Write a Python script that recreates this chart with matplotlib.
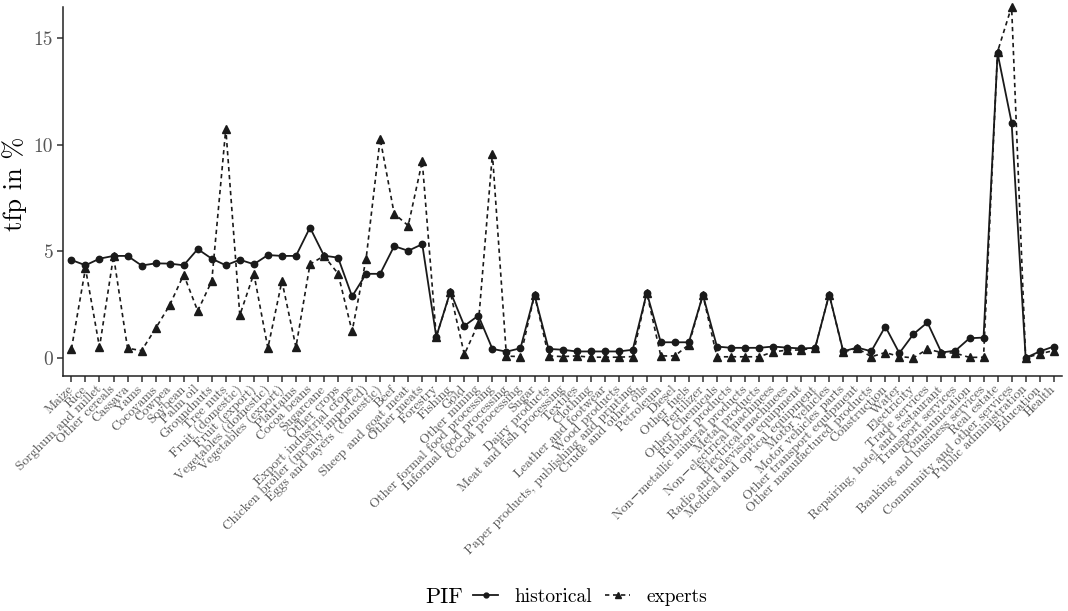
import matplotlib
matplotlib.use("Agg")
import matplotlib.pyplot as plt
from matplotlib.lines import Line2D

plt.rcParams['font.family'] = ['cmr10', 'DejaVu Serif']
plt.rcParams['axes.formatter.use_mathtext'] = True

# 行业
sectors = [
    "Maize", "Rice", "Sorghum and millet", "Other cereals", "Cassava", "Yams",
    "Cocoyams", "Cowpea", "Soybean", "Palm oil", "Groundnuts", "Tree nuts",
    "Fruit (domestic)", "Fruit (export)", "Vegetables (domestic)", "Vegetables (export)",
    "Plantains", "Cocoa beans", "Sugarcane", "Other crops", "Export industrial crops",
    "Chicken broiler (mostly imported)", "Eggs and layers (domestic)", "Beef",
    "Sheep and goat meat", "Other meats", "Forestry", "Fishing", "Gold", "Other mining",
    "Other formal food processing", "Informal food processing", "Cocoa processing",
    "Sugar", "Dairy products", "Meat and fish processing", "Textiles", "Clothing",
    "Leather and footwear", "Wood products", "Paper products, publishing and printing",
    "Crude and other oils", "Petroleum", "Diesel", "Other fuels", "Fertilizer",
    "Other Chemicals", "Rubber products", "Non\u2212metallic mineral products",
    "Metal products", "Non\u2212electrical machinees", "Electrical machinees",
    "Radio and television equipment", "Medical and optical equipment", "Motor vehicles",
    "Motor vehicles parts", "Other transport equipment", "Other manufactured products",
    "Construction", "Water", "Electricity", "Trade services",
    "Repairing, hotel and restaurant", "Transport services", "Communication",
    "Banking and business services", "Real estate", "Community and other services",
    "Public administration", "Education", "Health",
]

# tfp 增长率 (%)
historical = [
    4.59, 4.34, 4.65, 4.78, 4.78, 4.33, 4.43, 4.42, 4.34, 5.10,
    4.65, 4.34, 4.60, 4.39, 4.82, 4.78, 4.78, 6.11, 4.79, 4.70,
    2.88, 3.94, 3.94, 5.24, 5.02, 5.33, 0.99, 3.10, 1.50, 1.98,
    0.42, 0.29, 0.45, 2.95, 0.42, 0.38, 0.30, 0.30, 0.30, 0.30,
    0.38, 3.05, 0.73, 0.73, 0.73, 2.95, 0.53, 0.47, 0.47, 0.47,
    0.53, 0.48, 0.44, 0.47, 2.97, 0.31, 0.48, 0.31, 1.47, 0.22,
    1.11, 1.66, 0.25, 0.34, 0.92, 0.95, 14.28, 11.03, 0.00, 0.30, 0.53,
]
experts = [
    0.42, 4.20, 0.50, 4.78, 0.45, 0.34, 1.38, 2.47, 3.90, 2.20,
    3.60, 10.74, 2.00, 3.95, 0.46, 3.60, 0.50, 4.39, 4.78, 3.95,
    1.24, 4.65, 10.28, 6.76, 6.20, 9.22, 0.99, 3.07, 0.16, 1.61,
    9.57, 0.08, 0.06, 2.95, 0.09, 0.06, 0.09, 0.03, 0.03, 0.03,
    0.06, 3.05, 0.09, 0.09, 0.62, 2.95, 0.05, 0.05, 0.05, 0.05,
    0.28, 0.36, 0.37, 0.47, 2.97, 0.28, 0.45, 0.05, 0.25, 0.06,
    0.00, 0.41, 0.25, 0.22, 0.02, 0.03, 14.36, 16.47, 0.00, 0.19, 0.34,
]

x = range(len(sectors))
grey = '#555555'
dash = (0, (2.6, 2.2))

fig = plt.figure(figsize=(10.68, 6.11), dpi=100)
ax = fig.add_axes([0.059, 0.385, 0.9355, 0.6035])

ax.plot(x, historical, color='#1a1a1a', lw=1.3, marker='o', ms=4.6, clip_on=False, zorder=3)
ax.plot(x, experts, color='#1a1a1a', lw=1.2, ls=dash, marker='^', ms=5.2, clip_on=False, zorder=3)

ax.set_xlim(-0.6, len(sectors) - 0.4)
ax.set_ylim(-0.84, 16.45)
ax.set_yticks([0, 5, 10, 15])
ax.set_yticklabels(['0', '5', '10', '15'])
ax.set_xticks(list(x))
ax.set_xticklabels(sectors, rotation=45, ha='right', va='center', rotation_mode='anchor')

for lab in ax.get_xticklabels():
    lab.set_fontsize(9.6)
    lab.set_color(grey)
for lab in ax.get_yticklabels():
    lab.set_fontsize(14)
    lab.set_color(grey)

ax.tick_params(axis='both', length=4.5, width=1.1, color='#333333', pad=2.5)
ax.tick_params(axis='x', pad=4)
ax.spines['top'].set_visible(False)
ax.spines['right'].set_visible(False)
for s in ['left', 'bottom']:
    ax.spines[s].set_linewidth(1.1)
    ax.spines[s].set_color('#222222')

ax.set_ylabel('tfp in %', fontsize=19)
ax.yaxis.set_label_coords(-0.036, 0.52)

# 图例
handles = [
    Line2D([], [], color='#1a1a1a', lw=1.3, marker='o', ms=3.5),
    Line2D([], [], color='#1a1a1a', lw=1.2, ls=dash, marker='^', ms=4),
]
fig.text(0.398, 0.023, 'PIF', fontsize=16, ha='left', va='center')
fig.legend(handles, ['historical', 'experts'], loc='center left', bbox_to_anchor=(0.443, 0.023),
           ncol=2, frameon=False, fontsize=14, handlelength=1.3, handletextpad=0.8,
           columnspacing=0.7, borderaxespad=0, borderpad=0)

fig.savefig('out.png', dpi=100)
